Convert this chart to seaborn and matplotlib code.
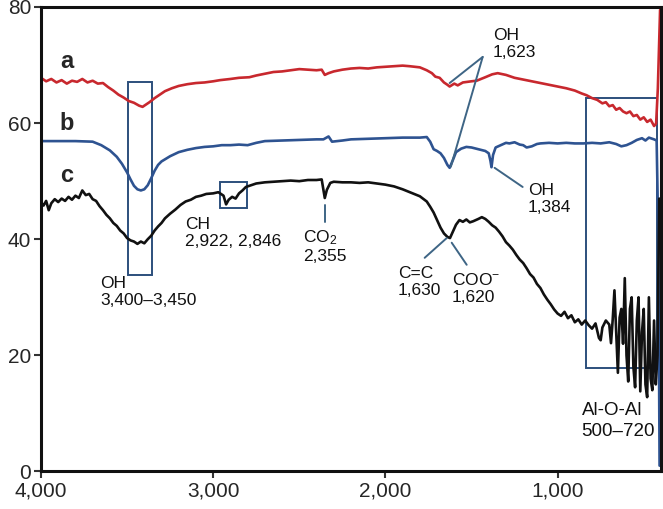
import pandas as pd
import matplotlib.pyplot as plt
import matplotlib.patches as patches
from matplotlib.ticker import StrMethodFormatter
import seaborn as sns

# FTIR spectra, wavenumber (cm-1) vs transmittance (%)
wn_a = [4000, 3970, 3940, 3910, 3880, 3850, 3820, 3790, 3760, 3730, 3700, 3670, 3640, 3610,
        3580, 3550, 3520, 3490, 3460, 3430, 3410, 3390, 3370, 3340, 3310, 3280, 3240, 3200,
        3150, 3100, 3050, 3000, 2960, 2900, 2850, 2790, 2750, 2700, 2650, 2600, 2550, 2500,
        2450, 2400, 2370, 2352, 2330, 2300, 2250, 2200, 2150, 2100, 2050, 2000, 1950, 1900,
        1860, 1800, 1760, 1730, 1710, 1685, 1660, 1640, 1627, 1600, 1580, 1550, 1500, 1470,
        1420, 1380, 1348, 1300, 1250, 1200, 1150, 1100, 1050, 1000, 950, 900, 860, 832, 800,
        770, 740, 720, 700, 680, 660, 640, 620, 600, 580, 560, 540, 520, 500, 480, 460, 440,
        428, 418, 405]
tr_a = [67.8, 67.2, 67.6, 67.0, 67.4, 66.8, 67.3, 67.1, 67.6, 67.0, 67.3, 66.8, 66.9, 66.2,
        65.6, 64.9, 64.4, 63.8, 63.5, 63.0, 62.8, 63.2, 63.6, 64.3, 64.9, 65.5, 66.0, 66.4,
        66.7, 66.9, 67.0, 67.2, 67.4, 67.6, 67.8, 67.9, 68.2, 68.5, 68.8, 68.9, 69.1, 69.3,
        69.2, 69.1, 69.2, 68.3, 68.6, 68.9, 69.2, 69.4, 69.5, 69.4, 69.6, 69.7, 69.8, 69.9,
        69.8, 69.6, 69.1, 68.6, 68.0, 67.8, 67.0, 66.6, 66.3, 66.8, 66.5, 67.0, 67.2, 67.3,
        67.9, 68.4, 68.6, 68.3, 67.8, 67.5, 67.2, 66.9, 66.6, 66.3, 66.0, 65.6, 65.1, 64.8,
        64.3, 64.0, 63.4, 63.6, 62.9, 63.1, 62.3, 62.6, 62.0, 61.7, 62.0, 61.2, 61.4, 60.6,
        61.0, 60.2, 60.6, 59.5, 59.9, 66.0, 79.5]

wn_b = [4000, 3900, 3800, 3700, 3650, 3600, 3560, 3530, 3500, 3480, 3460, 3440, 3420, 3400,
        3380, 3360, 3340, 3320, 3300, 3250, 3200, 3150, 3100, 3050, 3000, 2950, 2900, 2850,
        2800, 2750, 2700, 2600, 2500, 2400, 2360, 2330, 2310, 2250, 2200, 2100, 2000, 1900,
        1800, 1760, 1740, 1720, 1700, 1680, 1660, 1640, 1627, 1610, 1590, 1560, 1530, 1500,
        1460, 1420, 1400, 1390, 1384, 1375, 1360, 1330, 1300, 1280, 1250, 1220, 1200, 1180,
        1150, 1120, 1100, 1050, 1000, 950, 900, 850, 800, 750, 700, 660, 630, 600, 570, 540,
        510, 490, 470, 440, 425, 415, 408]
tr_b = [56.9, 56.9, 56.9, 56.8, 56.2, 55.3, 54.2, 53.0, 51.5, 50.3, 49.2, 48.6, 48.4, 48.6,
        49.3, 50.5, 51.8, 52.8, 53.4, 54.3, 55.0, 55.4, 55.7, 55.9, 56.0, 56.2, 56.2, 56.3,
        56.2, 56.6, 56.9, 57.0, 57.1, 57.2, 57.2, 57.7, 56.8, 57.0, 57.2, 57.3, 57.4, 57.5,
        57.5, 57.6, 56.8, 55.5, 55.2, 54.8, 54.0, 52.8, 52.3, 53.5, 55.0, 55.6, 55.9, 55.8,
        55.5, 55.2, 54.8, 53.5, 52.4, 54.5, 55.8, 56.2, 56.6, 56.5, 56.7, 56.3, 56.2, 55.8,
        56.0, 56.4, 56.5, 56.6, 56.5, 56.6, 56.5, 56.5, 56.6, 56.5, 56.7, 56.4, 56.0, 56.2,
        56.6, 57.1, 57.4, 57.0, 57.5, 57.2, 57.0, 40.0, 1.0]

wn_c = [4000, 3985, 3970, 3955, 3940, 3920, 3900, 3880, 3860, 3840, 3820, 3800, 3780, 3760,
        3740, 3720, 3700, 3680, 3660, 3640, 3620, 3600, 3580, 3560, 3540, 3520, 3500, 3480,
        3460, 3440, 3420, 3400, 3380, 3360, 3340, 3320, 3300, 3280, 3250, 3220, 3190, 3160,
        3130, 3100, 3070, 3040, 3000, 2970, 2940, 2925, 2910, 2890, 2870, 2850, 2830, 2810,
        2780, 2750, 2700, 2650, 2600, 2550, 2500, 2450, 2400, 2370, 2360, 2352, 2340, 2320,
        2300, 2250, 2200, 2150, 2100, 2050, 2000, 1950, 1900, 1850, 1800, 1760, 1740, 1720,
        1700, 1680, 1660, 1640, 1625, 1610, 1590, 1570, 1550, 1530, 1510, 1490, 1460, 1440,
        1420, 1400, 1380, 1360, 1340, 1320, 1300, 1280, 1260, 1240, 1220, 1200, 1180, 1160,
        1140, 1120, 1100, 1080, 1060, 1040, 1020, 1000, 980, 960, 940, 920, 900, 880, 860,
        840, 820, 800, 780, 760, 750, 740, 720, 700, 690, 680, 670, 660, 650, 640, 630, 620,
        610, 600, 590, 580, 570, 560, 550, 540, 530, 520, 510, 500, 490, 480, 470, 460, 450,
        440, 430, 420, 410]
tr_c = [46.4, 45.8, 46.6, 45.0, 46.2, 46.9, 46.4, 47.0, 46.6, 47.3, 46.8, 47.5, 47.1, 48.4,
        47.6, 47.8, 46.9, 46.6, 45.7, 45.0, 44.2, 43.6, 42.8, 42.3, 41.5, 41.0, 40.2, 39.8,
        39.6, 39.2, 39.6, 39.3, 40.0, 40.6, 41.5, 42.2, 42.8, 43.6, 44.4, 45.1, 45.9, 46.5,
        46.8, 47.3, 47.5, 47.8, 47.9, 48.1, 47.5, 46.0, 46.8, 47.3, 47.0, 47.9, 48.4, 49.0,
        49.3, 49.6, 49.8, 49.9, 50.0, 50.1, 50.0, 50.2, 50.2, 50.3, 48.5, 47.1, 48.5, 49.7,
        49.9, 49.8, 49.8, 49.7, 49.8, 49.6, 49.4, 49.1, 48.6, 48.0, 47.4, 46.5, 45.6, 44.6,
        43.3, 42.0, 41.0, 40.4, 40.2, 41.2, 42.5, 43.3, 43.0, 43.4, 42.9, 43.1, 43.5, 43.8,
        43.5, 43.0, 42.4, 42.0, 41.3, 40.5, 39.5, 38.9, 38.2, 37.3, 36.5, 35.9, 35.0, 34.0,
        33.4, 32.3, 31.6, 30.5, 29.6, 28.8, 27.9, 27.2, 26.8, 27.5, 26.4, 26.9, 25.7, 26.2,
        25.3, 26.0, 25.2, 24.6, 25.5, 23.0, 22.6, 24.8, 26.0, 25.3, 22.1, 26.2, 31.2, 24.0,
        17.0, 26.5, 28.0, 22.0, 33.3, 20.0, 15.5, 28.0, 30.0, 18.0, 14.5, 26.0, 30.0, 13.8,
        24.0, 28.0, 15.0, 12.8, 30.0, 16.0, 14.0, 26.0, 15.0, 20.0, 47.0]

series_names = ['a', 'b', 'c']
series_colors = ['#C8282E', '#2E5391', '#111111']

df = pd.concat([
    pd.DataFrame({'wavenumber': wn_a, 'T': tr_a, 'sample': 'a'}),
    pd.DataFrame({'wavenumber': wn_b, 'T': tr_b, 'sample': 'b'}),
    pd.DataFrame({'wavenumber': wn_c, 'T': tr_c, 'sample': 'c'}),
])

sns.set_style('ticks')
plt.rcParams['font.family'] = ['Liberation Sans', 'DejaVu Sans']
plt.rcParams['mathtext.fontset'] = 'custom'
plt.rcParams['mathtext.rm'] = 'Liberation Sans'
plt.rcParams['mathtext.it'] = 'Liberation Sans'

fig = plt.figure(figsize=(6.63, 5.09), dpi=100)
ax = fig.add_axes([0.0618, 0.0737, 0.9351, 0.9126])

sns.lineplot(data=df, x='wavenumber', y='T', hue='sample', palette=dict(zip(series_names, series_colors)),
             estimator=None, sort=False, linewidth=1.9, legend=False, ax=ax)

ax.set_xlim(4000, 400)
ax.set_ylim(0, 80)
ax.set_xticks([4000, 3000, 2000, 1000])
ax.set_yticks([0, 20, 40, 60, 80])
ax.xaxis.set_major_formatter(StrMethodFormatter('{x:,.0f}'))
ax.tick_params(labelsize=15, length=5, width=1.5, color='#333333', pad=2)
ax.set_xlabel('')
ax.set_ylabel('')
for sp in ax.spines.values():
    sp.set_linewidth(2.2)
    sp.set_color('#111111')

# curve labels
for name, yy in zip(series_names, [69.5, 58.8, 49.9]):
    ax.text(3890, yy, name, fontsize=17, fontweight='bold', va='baseline')

# highlight boxes
box_col = '#2C4F7C'
for (x0, x1, y0, y1) in [(3495, 3356, 33.8, 67.1), (2961, 2805, 45.4, 49.9), (837, 425, 17.8, 64.3)]:
    ax.add_patch(patches.Rectangle((x1, y0), x0 - x1, y1 - y0, fill=False, edgecolor=box_col, linewidth=1.4))

# annotation leader lines
line_col = '#3E6585'
leaders = [
    ((1435, 71.4), (1627, 66.9)),
    ((1435, 71.4), (1620, 52.5)),
    ((1366, 52.3), (1203, 49.0)),
    ((2352, 45.9), (2352, 43.0)),
    ((1644, 40.2), (1772, 36.8)),
    ((1615, 39.4), (1528, 35.6)),
]
for (p0, p1) in leaders:
    ax.plot([p0[0], p1[0]], [p0[1], p1[1]], color=line_col, linewidth=1.4)

fs = 12.5
ann = [
    (1377, 76.4, 'OH\n1,623'),
    (1174, 49.7, 'OH\n1,384'),
    (2480, 41.8, 'CO$_2$\n2,355'),
    (1928, 35.4, 'C=C\n1,630'),
    (1615, 34.4, 'COO$^{-}$\n1,620'),
    (3658, 33.7, 'OH\n3,400\u20133,450'),
    (3164, 43.8, 'CH\n2,922, 2,846'),
]
for xx, yy, s in ann:
    ax.text(xx, yy, s, fontsize=fs, va='top', ha='left', linespacing=1.15, color='#111111')
ax.text(861, 12.0, 'Al-O-Al\n500\u2013720', fontsize=13.5, va='top', ha='left', linespacing=1.3, color='#111111')

fig.savefig('out.png', dpi=100)
